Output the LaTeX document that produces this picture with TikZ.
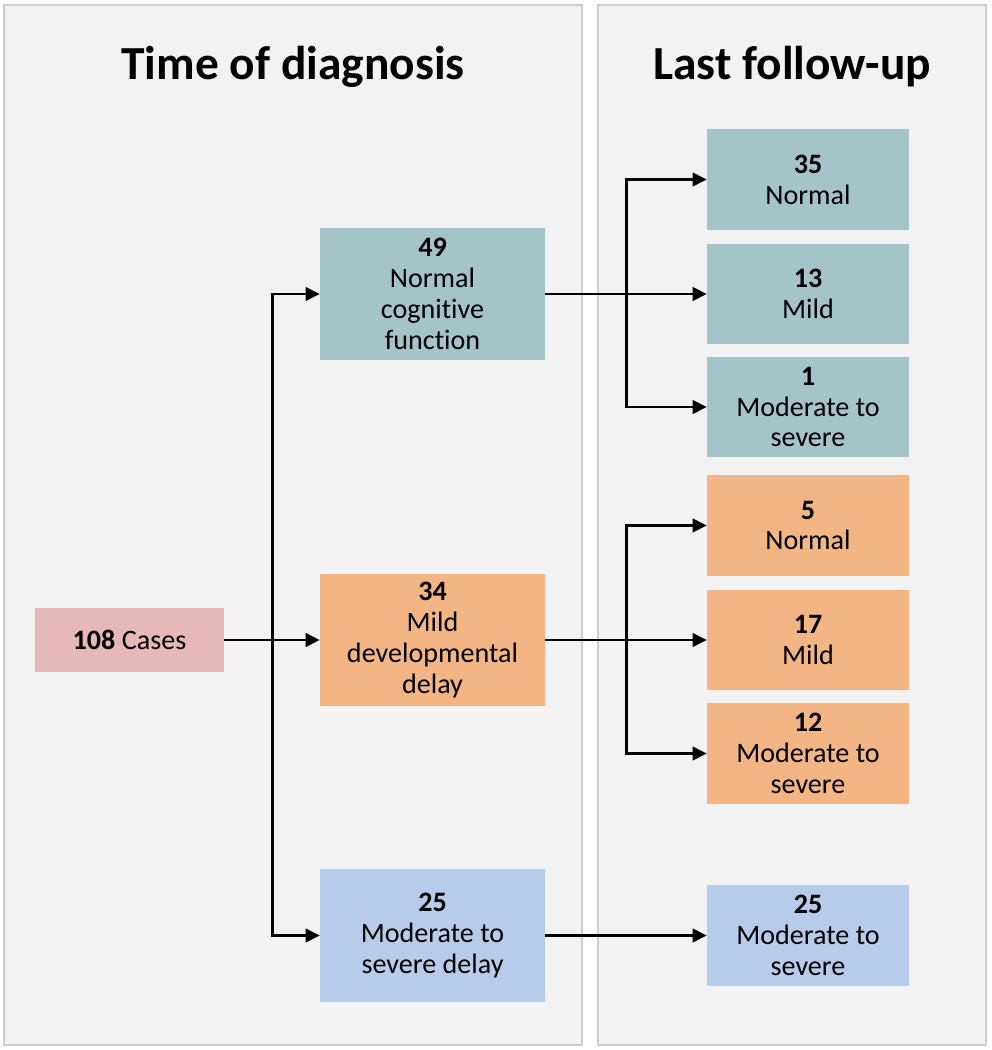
\documentclass[tikz,border=0pt]{standalone}
\usepackage{fontspec}
\setmainfont{Carlito}[Ligatures=NoCommon]
\usepackage{tikz}
\usetikzlibrary{arrows.meta,positioning}

\definecolor{panelgray}{RGB}{242,242,242}
\definecolor{panelline}{RGB}{205,205,205}
\definecolor{casepink}{RGB}{230,184,183}
\definecolor{normteal}{RGB}{164,196,201}
\definecolor{mildorange}{RGB}{244,181,132}
\definecolor{sevblue}{RGB}{183,204,234}

\begin{document}
\begin{tikzpicture}
[   x=0.02cm, y=0.02cm,
    panel/.style={draw=panelline, fill=panelgray, line width=0.8pt},
    title/.style={font=\fontsize{27}{32}\selectfont\bfseries},
    lbox/.style={minimum width=4.5cm, minimum height=2.66cm, inner sep=0pt, align=center, font=\fontsize{16}{17.6}\selectfont},
    rbox/.style={minimum width=4.04cm, minimum height=2.02cm, inner sep=0pt, align=center, font=\fontsize{16}{17.6}\selectfont},
    arr/.style={line width=1.4pt, -{Triangle[length=2.8mm,width=2.7mm]}}, ]
    \useasboundingbox (0,0) rectangle (991,-1050);

    % the two columns
    \draw[panel] (4,-5) rectangle (582,-1045);
    \draw[panel] (598,-5) rectangle (986,-1045);
    \node[title] (title-t) at (293,-67) {Time of diagnosis};
    \node[title] (title-f) at (792,-67) {Last follow-up};

    \node[minimum width=3.78cm, minimum height=1.3cm, inner sep=0pt, fill=casepink, font=\fontsize{16}{17.6}\selectfont] (cases) at (129.5,-640) {\textbf{108} Cases};

    \node[lbox, fill=normteal] (t-1) at (432.5,-294) {\textbf{49}\\Normal\\cognitive\\function};
    \node[lbox, fill=mildorange] (t-2) at (432.5,-640) {\textbf{34}\\Mild\\developmental\\delay};
    \node[lbox, fill=sevblue] (t-3) at (432.5,-935.5) {\textbf{25}\\Moderate to\\severe delay};

    \foreach \x/\y/\num/\txt/\col in {1/-179.5/35/Normal/normteal, 2/-294/13/Mild/normteal, 3/-407/1/{Moderate to\\severe}/normteal, 4/-525.5/5/Normal/mildorange, 5/-640/17/Mild/mildorange, 6/-753.5/12/{Moderate to\\severe}/mildorange, 7/-935.5/25/{Moderate to\\severe}/sevblue}
    {
        \node[rbox, fill=\col] (f-\x) at (808,\y) {\textbf{\num}\\\txt};
    }

    \foreach \x in {1,...,3}
    {   \draw[arr] (cases.east) -- ++(48,0) |- (t-\x.west);
    }

    \draw[arr] (t-1.east) -- (f-2.west);
    \draw[arr] (t-2.east) -- (f-5.west);
    \draw[arr] (t-3.east) -- (f-7.west);
    \foreach \y in {1,3}
    {   \draw[arr] (t-1.east) -- ++(81,0) |- (f-\y.west);
    }
    \foreach \y in {4,6}
    {   \draw[arr] (t-2.east) -- ++(81,0) |- (f-\y.west);
    }

\end{tikzpicture}
\end{document}
